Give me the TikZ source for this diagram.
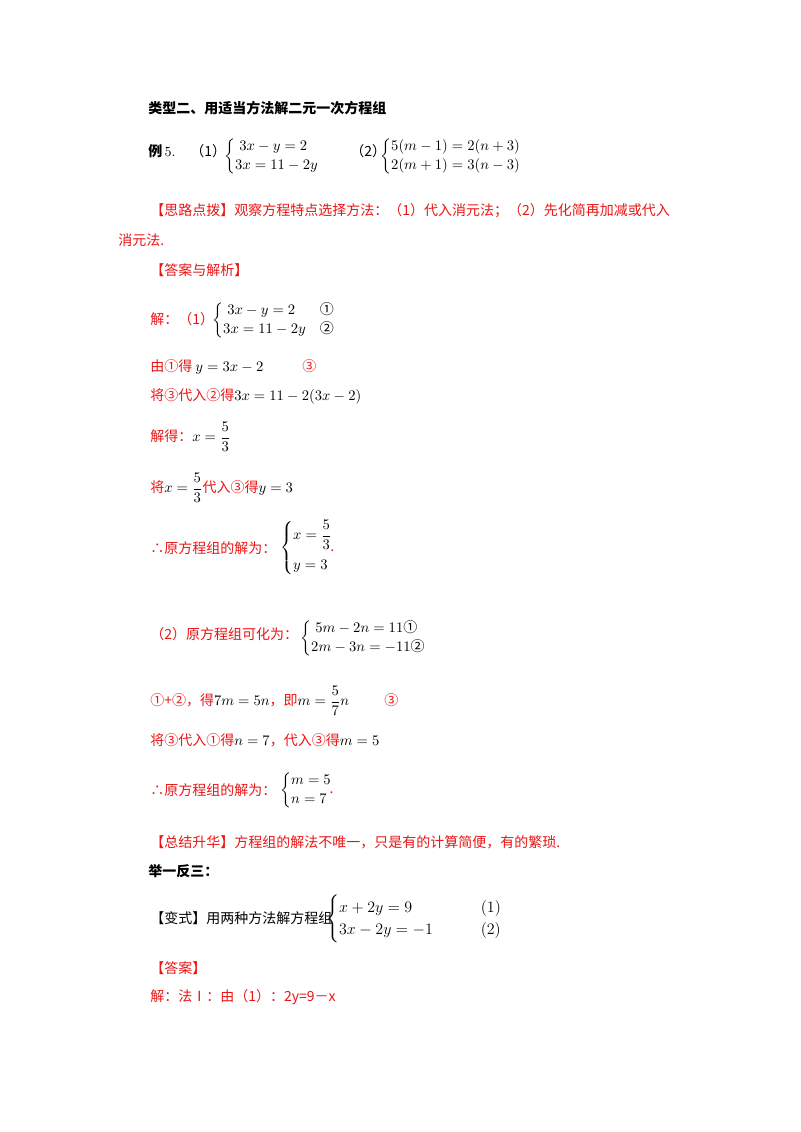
\documentclass[tikz,border=0pt]{standalone}
\usepackage{amsmath}
\usepackage{fontspec}
\newfontfamily\cjk{Noto Sans CJK SC}
\definecolor{hongse}{RGB}{235,20,20}
\tikzset{
  hang/.style={anchor=west, inner sep=0pt, font=\cjk\fontsize{10.5}{12}\selectfont},
  hongzi/.style={hang, text=hongse},
  heizi/.style={hang, font=\cjk\bfseries\fontsize{10.5}{12}\selectfont}
}
\newcommand{\hz}[1]{\textcolor{hongse}{#1}}
\begin{document}
\begin{tikzpicture}[x=0.75pt,y=-0.75pt]
  \useasboundingbox (0,0) rectangle (800,1132);
  % title and example
  \node[heizi] (biaoti) at (148,108) {类型二、用适当方法解二元一次方程组};
  \node[heizi] (li) at (148,151) {例\,\normalfont 5.};
  \node[hang] (xiao1) at (190,151) {（1）};
  \node[hang] (zu1) at (224,156) {$\begin{cases}\;3x-y=2\\ 3x=11-2y\end{cases}$};
  \node[hang] (xiao2) at (350,151) {（2）};
  \node[hang] (zu2) at (380,156) {$\begin{cases}5(m-1)=2(n+3)\\ 2(m+1)=3(n-3)\end{cases}$};
  % hint
  \node[hongzi] (silu) at (150,211) {【思路点拨】观察方程特点选择方法：（1）代入消元法；（2）先化简再加减或代入};
  \node[hongzi] (silu2) at (118,240) {消元法.};
  \node[hongzi] (daan) at (150,270) {【答案与解析】};
  % part one
  \node[hongzi] (jie1) at (150,319) {解：（1）};
  \node[hang] (zu3) at (212,320) {$\begin{cases}\;3x-y=2 & \text{\cjk ①}\\ 3x=11-2y & \text{\cjk ②}\end{cases}$};
  \node[hongzi] (bu1) at (150,367) {由①得 \textcolor{black}{$y=3x-2$}\qquad\;\; ③};
  \node[hongzi] (bu2) at (150,396) {将③代入②得\textcolor{black}{$3x=11-2(3x-2)$}};
  \node[hongzi] (bu3) at (150,437) {解得：\textcolor{black}{$x=\dfrac{5}{3}$}};
  \node[hongzi] (bu4) at (150,488) {将\textcolor{black}{$x=\dfrac{5}{3}$}代入③得\textcolor{black}{$y=3$}};
  \node[hongzi] (suoyi1) at (150,548) {∴原方程组的解为：};
  \node[hang] (zu4) at (280,548) {$\begin{cases}x=\dfrac{5}{3}\\[8pt] y=3\end{cases}$\hspace{-1.2em}\hz{.}};
  % part two
  \node[hongzi] (jie2) at (150,634) {（2）原方程组可化为：};
  \node[hang] (zu5) at (300,638) {$\begin{cases}\;5m-2n=11\text{\cjk ①}\\ 2m-3n=-11\text{\cjk ②}\end{cases}$};
  \node[hongzi] (bu5) at (150,701) {①+②，得\textcolor{black}{$7m=5n$}，即\textcolor{black}{$m=\dfrac{5}{7}n$}\qquad\; ③};
  \node[hongzi] (bu6) at (150,740) {将③代入①得\textcolor{black}{$n=7$}，代入③得\textcolor{black}{$m=5$}};
  \node[hongzi] (suoyi2) at (150,790) {∴原方程组的解为：};
  \node[hang] (zu6) at (280,790) {$\begin{cases}m=5\\ n=7\end{cases}$\hspace{-1.2em}\hz{.}};
  % summary and variant
  \node[hongzi] (zongjie) at (150,842) {【总结升华】方程组的解法不唯一，只是有的计算简便，有的繁琐.};
  \node[heizi] (juyi) at (148,871) {举一反三：};
  \node[hang] (bianshi) at (150,918) {【变式】用两种方法解方程组};
  \node[hang] (zu7) at (326,919) {\large$\begin{cases}x+2y=9 & \qquad(1)\\ 3x-2y=-1 & \qquad(2)\end{cases}$};
  \node[hongzi] (daan2) at (150,968) {【答案】};
  \node[hongzi] (jie3) at (150,997) {解：法Ⅰ：由（1）：2y=9－x};
\end{tikzpicture}
\end{document}
